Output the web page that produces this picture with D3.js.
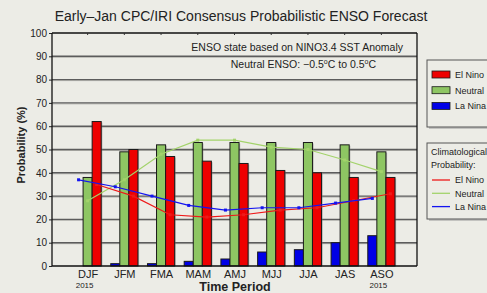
<!DOCTYPE html>
<html><head><meta charset="utf-8">
<script src="https://cdn.jsdelivr.net/npm/d3@7"></script>
<style>
html,body{margin:0;padding:0;background:#ecece6;}
svg{display:block;font-family:"Liberation Sans",Arial,Helvetica,sans-serif;}
</style></head>
<body><svg id="c" width="487" height="293"></svg>
<script>
const categories = ["DJF","JFM","FMA","MAM","AMJ","MJJ","JJA","JAS","ASO"];
const yearLabels = ["2015","","","","","","","","2015"];
const laNina  = [0,1,1,2,3,6,7,10,13];
const neutral = [38,49,52,53,53,53,53,52,49];
const elNino  = [62,50,47,45,44,41,40,38,38];
const climLaNina  = [37,34,30,26,24,25,25,27,29];
const climNeutral = [28,37,48,54,54,51,50,45.5,40.5];
const climElNino  = [35,30,22,21,22,24,25,28,31];
const yTicks = [0,10,20,30,40,50,60,70,80,90,100];
const seriesNames = ["La Nina","Neutral","El Nino"];
const legendOrder = ["El Nino","Neutral","La Nina"];
const barColors = {"El Nino":"#ee0000","Neutral":"#8ec663","La Nina":"#0000e6"};
const lineColors = {"El Nino":"#ee1a1a","Neutral":"#a3d36b","La Nina":"#1414f0"};

const svg = d3.select("#c");
const L=52, R=417, T=33, B=266;
svg.append("rect").attr("width",487).attr("height",293).attr("fill","#ecece6");

const x0 = d3.scaleBand().domain(categories).range([L,R]).paddingInner(0.26).paddingOuter(0.6);
const x1 = d3.scaleBand().domain(seriesNames).range([0,x0.bandwidth()]);
const y = d3.scaleLinear().domain([0,100]).range([B,T]);

// gridlines
const g = svg.append("g");
yTicks.filter(v=>v>0&&v<100).forEach(v=>{
  g.append("line").attr("x1",L).attr("x2",R).attr("y1",y(v)+1).attr("y2",y(v)+1).attr("stroke","#b8b8b2").attr("stroke-width",1);
  g.append("line").attr("x1",L).attr("x2",R).attr("y1",y(v)).attr("y2",y(v)).attr("stroke","#5c5c5c").attr("stroke-width",1.4);
});

// y axis
const ya = svg.append("g").attr("transform",`translate(${L},0)`)
  .call(d3.axisLeft(y).tickValues(yTicks).tickSize(3).tickPadding(2));
ya.select(".domain").remove();
ya.selectAll("text").attr("font-size","10px").attr("fill","#222").attr("font-family","Liberation Sans, Arial, sans-serif");
ya.selectAll("line").attr("stroke","#222");

// bars
const data = categories.map((c,i)=>({cat:c, vals:{"La Nina":laNina[i],"Neutral":neutral[i],"El Nino":elNino[i]}}));
const bg = svg.append("g");
data.forEach(d=>{
  seriesNames.forEach(s=>{
    const v=d.vals[s]; if(v<=0) return;
    const bx=x0(d.cat)+x1(s), bw=x1.bandwidth();
    bg.append("rect").attr("x",bx+1.2).attr("y",y(v)+1).attr("width",bw).attr("height",y(0)-y(v)-1)
      .attr("fill","#777").attr("opacity",0.45);
    bg.append("rect").attr("x",bx).attr("y",y(v)).attr("width",bw).attr("height",y(0)-y(v))
      .attr("fill",barColors[s]).attr("stroke","#1a1a1a").attr("stroke-width",1);
  });
});

// climatology lines
const clim = {"La Nina":climLaNina,"Neutral":climNeutral,"El Nino":climElNino};
const lineGen = d3.line().x(d=>d[0]).y(d=>d[1]);
["Neutral","El Nino","La Nina"].forEach(s=>{
  const pts = categories.map((c,i)=>[x0(c)+x1(s)+x1.bandwidth()/2, y(clim[s][i])]);
  svg.append("path").attr("d",lineGen(pts)).attr("fill","none").attr("stroke",lineColors[s]).attr("stroke-width",1.2);
  svg.selectAll(null).data(pts).enter().append("rect")
    .attr("x",d=>d[0]-1.5).attr("y",d=>d[1]-1.5).attr("width",3).attr("height",3).attr("fill",lineColors[s]);
});

// frame
svg.append("line").attr("x1",L).attr("x2",R).attr("y1",T).attr("y2",T).attr("stroke","#111").attr("stroke-width",1.3);
svg.append("line").attr("x1",R).attr("x2",R).attr("y1",T).attr("y2",B).attr("stroke","#111").attr("stroke-width",1.3);
svg.append("line").attr("x1",L).attr("x2",L).attr("y1",T).attr("y2",B).attr("stroke","#111").attr("stroke-width",1.3);
svg.append("line").attr("x1",L).attr("x2",R).attr("y1",B).attr("y2",B).attr("stroke","#111").attr("stroke-width",1.5);
// top category ticks
categories.forEach(c=>{
  const cx=x0(c)+x0.bandwidth()/2;
  svg.append("line").attr("x1",cx).attr("x2",cx).attr("y1",T).attr("y2",T+2).attr("stroke","#333");
});

// x labels
const xl = svg.append("g");
categories.forEach((c,i)=>{
  const cx=x0(c)+x0.bandwidth()/2;
  xl.append("text").attr("x",cx+0.5).attr("y",278).attr("text-anchor","middle").attr("font-size","11px").attr("fill","#222").text(c);
  if(yearLabels[i]) xl.append("text").attr("x",cx-3).attr("y",287.5).attr("text-anchor","middle").attr("font-size","8px").attr("fill","#222").text(yearLabels[i]);
});
svg.append("text").attr("x",235).attr("y",291).attr("text-anchor","middle").attr("font-size","12.5px").attr("font-weight","bold").attr("fill","#222").text("Time Period");
svg.append("text").attr("transform","translate(25,145) rotate(-90)").attr("text-anchor","middle").attr("font-size","11px").attr("font-weight","bold").attr("fill","#222").text("Probability (%)");

// title
svg.append("text").attr("x",241).attr("y",21).attr("text-anchor","middle").attr("font-size","14px").attr("fill","#222").text("Early\u2013Jan CPC/IRI Consensus Probabilistic ENSO Forecast");

// annotations
svg.append("text").attr("x",403).attr("y",51).attr("text-anchor","end").attr("font-size","10.5px").attr("fill","#222").text("ENSO state based on NINO3.4 SST Anomaly");
const t2 = svg.append("text").attr("x",376).attr("y",68).attr("text-anchor","end").attr("font-size","10.5px").attr("fill","#222");
t2.append("tspan").text("Neutral ENSO: \u22120.5");
t2.append("tspan").attr("dy",-4).attr("font-size","7px").text("o");
t2.append("tspan").attr("dy",4).text("C to 0.5");
t2.append("tspan").attr("dy",-4).attr("font-size","7px").text("o");
t2.append("tspan").attr("dy",4).text("C");

// legend 1
svg.append("rect").attr("x",429).attr("y",62).attr("width",70).attr("height",67).attr("fill","#999").attr("opacity",0.5);
svg.append("rect").attr("x",427).attr("y",60).attr("width",70).attr("height",67).attr("fill","#ecece6").attr("stroke","#555").attr("stroke-width",1);
legendOrder.forEach((s,i)=>{
  const yy=71+i*15.7;
  svg.append("rect").attr("x",432).attr("y",yy).attr("width",18).attr("height",7).attr("fill",barColors[s]).attr("stroke","#1a1a1a").attr("stroke-width",0.8);
  svg.append("text").attr("x",455).attr("y",yy+7).attr("font-size","9px").attr("fill","#222").text(s);
});
// legend 2
svg.append("rect").attr("x",429).attr("y",145).attr("width",70).attr("height",76).attr("fill","#999").attr("opacity",0.5);
svg.append("rect").attr("x",427).attr("y",143).attr("width",70).attr("height",76).attr("fill","#ecece6").attr("stroke","#555").attr("stroke-width",1);
svg.append("text").attr("x",431).attr("y",155).attr("font-size","9px").attr("fill","#222").text("Climatological");
svg.append("text").attr("x",431).attr("y",168).attr("font-size","9px").attr("fill","#222").text("Probability:");
legendOrder.forEach((s,i)=>{
  const yy=180+i*13.3;
  svg.append("line").attr("x1",432).attr("x2",450).attr("y1",yy).attr("y2",yy).attr("stroke",lineColors[s]).attr("stroke-width",1.3);
  svg.append("text").attr("x",455).attr("y",yy+3.2).attr("font-size","9px").attr("fill","#222").text(s);
});
</script></body></html>
